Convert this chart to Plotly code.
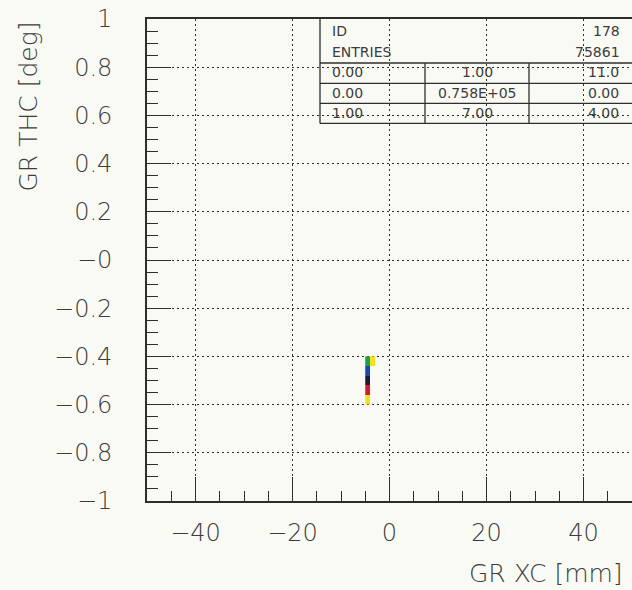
import plotly.graph_objects as go

# ---- data ----
x_edges = [-5.0, -4.0, -3.0]
y_edges = [-0.60, -0.56, -0.52, -0.48, -0.44, -0.40]
# z[row][col], rows from y=-0.60 upward; levels 1..5 (yellow, red, green, blue, dark)
z_counts = [
    [1, None],
    [2, None],
    [5, None],
    [4, None],
    [3, 1],
]
level_colors = ["#f2e21e", "#d0202e", "#1fa048", "#1e44b4", "#1c1c2c"]

x_tickvals = [-40, -20, 0, 20, 40]
x_ticktext = ["\u221240", "\u221220", "0", "20", "40"]
y_tickvals = [-1, -0.8, -0.6, -0.4, -0.2, 0, 0.2, 0.4, 0.6, 0.8, 1]
y_ticktext = ["\u22121", "\u22120.8", "\u22120.6", "\u22120.4", "\u22120.2", "\u22120",
              "0.2", "0.4", "0.6", "0.8", "1"]

x_title = "GR XC [mm]"
y_title = "GR THC [deg]"

stat_labels = ["ID", "ENTRIES"]
stat_values = ["178", "75861"]
table_rows = [
    ["0.00", "1.00", "11.0"],
    ["0.00", "0.758E+05", "0.00"],
    ["1.00", "7.00", "4.00"],
]

# ---- layout geometry (pixels) ----
W, H = 632, 590
L, R, T, B = 147, 632, 18.5, 500.7

def px(X):
    return (X - L) / (R - L)

def py(Y):
    return (B - Y) / (B - T)

ink = "#2e2e2e"
txt = "#3c3c3c"
bg = "#fafaf5"

n = len(level_colors)
cs = []
for i, c in enumerate(level_colors):
    cs.append([i / n, c])
    cs.append([(i + 1) / n, c])

fig = go.Figure()
fig.add_trace(go.Heatmap(
    x=x_edges, y=y_edges, z=z_counts,
    colorscale=cs, zmin=0.5, zmax=n + 0.5, showscale=False,
    hoverinfo="skip",
))

tickfont = dict(family="DejaVu Sans", size=24, color=txt, weight=200)
fig.update_xaxes(
    range=[-50, 50], tickmode="array", tickvals=x_tickvals, ticktext=x_ticktext,
    ticks="inside", ticklen=24, tickwidth=1.4, tickcolor=ink,
    minor=dict(dtick=5, tick0=0, ticks="inside", ticklen=10, tickwidth=1.4, tickcolor=ink, showgrid=False),
    showline=True, linecolor=ink, linewidth=1.6, mirror=True,
    showgrid=True, gridcolor=ink, gridwidth=1.2, griddash="2px,3px",
    zeroline=False, tickfont=tickfont, ticklabelstandoff=9,
)
fig.update_yaxes(
    range=[-1, 1], tickmode="array", tickvals=y_tickvals, ticktext=y_ticktext,
    ticks="inside", ticklen=24, tickwidth=1.4, tickcolor=ink,
    minor=dict(dtick=0.05, tick0=0, ticks="inside", ticklen=11, tickwidth=1.4, tickcolor=ink, showgrid=False),
    showline=True, linecolor=ink, linewidth=1.6, mirror=False,
    showgrid=True, gridcolor=ink, gridwidth=1.2, griddash="2px,3px",
    zeroline=False, tickfont=tickfont, ticklabelstandoff=28,
)

shapes = []
line = dict(color=ink, width=1.3)
box_l, box_r = 320, 660
rows_y = [62.5, 83, 103, 123]
shapes.append(dict(type="line", xref="paper", yref="paper", x0=px(box_l), x1=px(box_l), y0=py(T), y1=py(rows_y[-1]), line=line))
for yy in rows_y:
    shapes.append(dict(type="line", xref="paper", yref="paper", x0=px(box_l), x1=px(box_r), y0=py(yy), y1=py(yy), line=line))
for xx in [425, 529]:
    shapes.append(dict(type="line", xref="paper", yref="paper", x0=px(xx), x1=px(xx), y0=py(rows_y[0]), y1=py(rows_y[-1]), line=line))

annots = []
sfont = dict(family="DejaVu Sans", size=14, color=txt)
for i, (lab, val) in enumerate(zip(stat_labels, stat_values)):
    yc = [31, 52][i]
    annots.append(dict(text=lab, x=px(330), y=py(yc), xref="paper", yref="paper", xanchor="left", yanchor="middle", showarrow=False, font=sfont))
    annots.append(dict(text=val, x=px(622), y=py(yc), xref="paper", yref="paper", xanchor="right", yanchor="middle", showarrow=False, font=sfont))
row_yc = [72, 93, 113]
for r, row in enumerate(table_rows):
    annots.append(dict(text=row[0], x=px(330), y=py(row_yc[r]), xref="paper", yref="paper", xanchor="left", yanchor="middle", showarrow=False, font=sfont))
    annots.append(dict(text=row[1], x=px(477), y=py(row_yc[r]), xref="paper", yref="paper", xanchor="center", yanchor="middle", showarrow=False, font=sfont))
    annots.append(dict(text=row[2], x=px(621), y=py(row_yc[r]), xref="paper", yref="paper", xanchor="right", yanchor="middle", showarrow=False, font=sfont))

titlefont = dict(family="DejaVu Sans", size=25, color=txt, weight=200)
annots.append(dict(text=x_title, x=px(625), y=py(573), xref="paper", yref="paper", xanchor="right", yanchor="middle", showarrow=False, font=titlefont))
annots.append(dict(text=y_title, x=px(28), y=py(19), xref="paper", yref="paper", xanchor="center", yanchor="top", textangle=-90, showarrow=False, font=titlefont))

fig.update_layout(
    width=W, height=H,
    margin=dict(l=L, r=W - R, t=T, b=H - B),
    paper_bgcolor=bg, plot_bgcolor=bg,
    shapes=shapes, annotations=annots, showlegend=False,
)
fig.write_html("out.html")
